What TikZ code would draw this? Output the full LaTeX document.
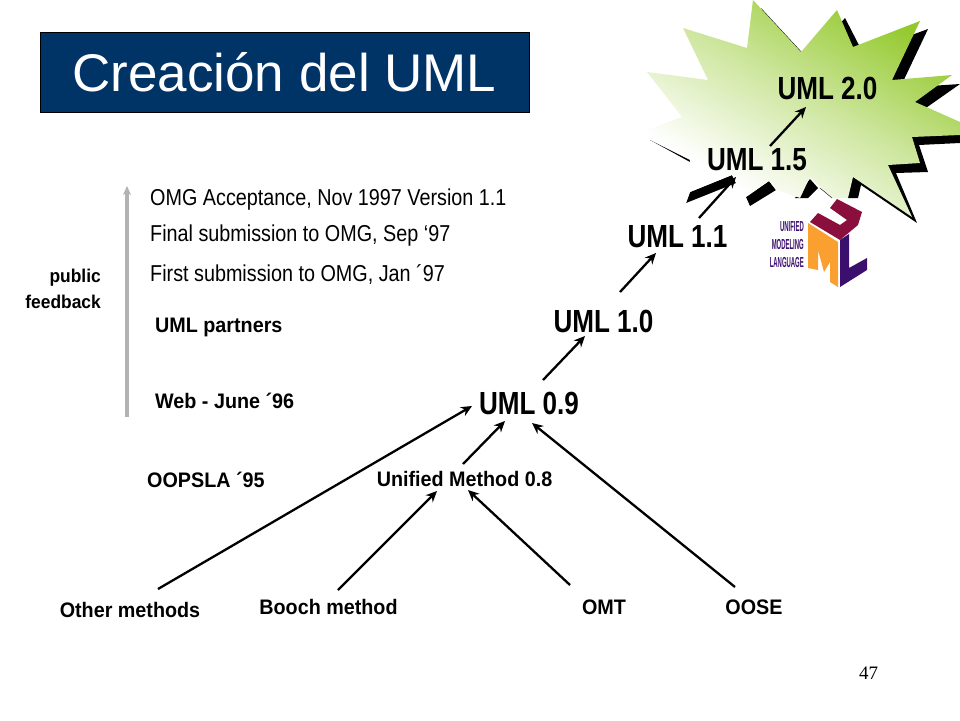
\documentclass[tikz,border=0pt]{standalone}
\usepackage{fontspec}
\setmainfont{Liberation Sans}
\newfontfamily\plainsans[FakeStretch=0.86]{Liberation Sans}
\newfontfamily\slimsans[FakeStretch=0.94]{Liberation Sans}
\newfontfamily\umlsans[FakeStretch=0.815]{Liberation Sans}
\newfontfamily\logosans[FakeStretch=0.41]{Liberation Sans}
\newfontfamily\pagefont{Liberation Serif}
\usetikzlibrary{arrows.meta}
\usetikzlibrary{calc}
\definecolor{titleblue}{RGB}{0,51,102}
\definecolor{burstgreen}{RGB}{146,200,42}
\definecolor{umaroon}{RGB}{138,15,60}
\definecolor{morange}{RGB}{249,160,48}
\definecolor{lpurple}{RGB}{59,15,110}
\pgfdeclareverticalshading{burstfade}{100bp}{color(0bp)=(white); color(30bp)=(white); color(52bp)=(burstgreen!45); color(75bp)=(burstgreen); color(100bp)=(burstgreen)}
\tikzstyle{edge} = [draw,line width=2.3pt,-{Stealth[length=11pt,width=10pt]}]
\tikzstyle{version} = [inner sep=0pt,font=\umlsans\bfseries\fontsize{32}{36}\selectfont]
\tikzstyle{plain} = [inner sep=0pt,anchor=base west,font=\plainsans\fontsize{23}{25}\selectfont]
\tikzstyle{method} = [inner sep=0pt,font=\slimsans\bfseries\fontsize{21}{24}\selectfont]
\tikzstyle{sidenote} = [inner sep=0pt,anchor=base east,font=\slimsans\bfseries\fontsize{18.5}{20}\selectfont]
\tikzstyle{logotext} = [inner sep=0pt,anchor=base east,text=lpurple,font=\logosans\bfseries\fontsize{14.5}{15}\selectfont]

\begin{document}
\begin{tikzpicture}[x=1pt,y=-1pt]
 \useasboundingbox (0,0) rectangle (960,720);

 % black shadow of the burst
 \fill[black] (761,8) -- (809,60) -- (845,18) -- (863,53) -- (928,29) -- (900,88) -- (960,84) -- (923,110) -- (960,126) -- (960,143) -- (919,145) -- (928,172) -- (896,173) -- (917,223) -- (861,185) -- (858,198) -- (848,198) -- (800,100) -- cycle;
 \fill[black] (650,140) -- (653,138) -- (691,158) -- (690,162) -- cycle;
 \fill[black] (686,203) -- (690,192) -- (732,175) -- (736,183) -- cycle;
 \fill[black] (746,197) -- (769,181) -- (776,190) -- (750,206) -- cycle;
 \fill[black] (795,198) -- (810,179) -- (818,188) -- (808,198) -- cycle;

 \path[shading=burstfade,shading angle=-30]
   (753,0) -- (801,52) -- (837,10) -- (853,47) -- (920,21) -- (892,80) -- (952,75) -- (915,102) -- (960,122) -- (960,135) -- (912,137) -- (920,163) -- (888,165) -- (912,217) -- (853,177) -- (848,198) -- (832,198) -- (810,177) -- (800,198) -- (776,190) -- (769,181) -- (746,197) -- (736,183) -- (732,175) -- (690,192) -- (686,203) -- (690,160) -- (650,140) -- (647,130) -- (682,117) -- (647,72) -- (708,80) -- (683,28) -- (747,48) -- cycle;
 \draw[black,line width=0.4pt] (820,188) -- (832,198);

 % logo
 \fill[umaroon] (837,199) -- (862,212) -- (858,225) -- (840,240) -- (810,222) -- (818,213) -- (840,225) -- (847,220) -- (830,208) -- cycle;
 \fill[morange] (808,223) -- (838,242) -- (838,287) -- (830,282) -- (830,262) -- (824,272) -- (818,250) -- (818,270) -- (808,268) -- cycle;
 \fill[lpurple] (840,240) -- (849,234) -- (849,268) -- (867,258) -- (867,270) -- (840,287) -- cycle;
 \node[logotext] (logoa) at (804,231) {UNIFIED};
 \node[logotext] (logob) at (804,249) {MODELING};
 \node[logotext] (logoc) at (804,267) {LANGUAGE};

 \node[draw=black,fill=titleblue,text=white,minimum width=489pt,minimum height=80pt,inner sep=0pt,font=\fontsize{53}{60}\selectfont] (title) at (284.5,72) {Creación del UML};

 \node[plain] (omg) at (150,205) {OMG Acceptance, Nov 1997 Version 1.1};
 \node[plain] (final) at (150,241) {Final submission to OMG, Sep ‘97};
 \node[plain] (first) at (150,281) {First submission to OMG, Jan ´97};
 \node[method,anchor=base west] (partners) at (155,332) {UML partners};
 \node[method,anchor=base west] (web) at (155,408) {Web - June ´96};
 \node[method,anchor=base west] (oopsla) at (147,487) {OOPSLA ´95};
 \node[sidenote] (public) at (101,282) {public};
 \node[sidenote] (feedback) at (101,308) {feedback};

 \coordinate (feedlow) at (127,417);
 \coordinate (feedhigh) at (127,186);
 \draw[draw=black!30,line width=3.2pt,-{Stealth[length=9pt,width=8pt]}] (feedlow) -- (feedhigh);

 \node[version,anchor=base] (uml09) at (529,414) {UML 0.9};
 \node[version,anchor=base] (uml10) at (603.5,332) {UML 1.0};
 \node[version,anchor=base] (uml11) at (677.5,247) {UML 1.1};
 \node[version,anchor=base] (uml15) at (757,170) {UML 1.5};
 \node[version,anchor=base] (uml20) at (827.5,99) {UML 2.0};

 \node[method,anchor=base] (unified) at (464.5,486) {Unified Method 0.8};
 \node[method,anchor=base] (other) at (130,617) {Other methods};
 \node[method,anchor=base] (booch) at (328.5,614) {Booch method};
 \node[method,anchor=base] (omt) at (604,614) {OMT};
 \node[method,anchor=base] (oose) at (754,614) {OOSE};

 \path[edge] ($(other.base)+(28,-28)$) -- ($(uml09.base)+(-57,-8)$);
 \path[edge] ($(booch.base)+(9.5,-24)$) -- ($(unified.base)+(-27.5,5)$);
 \path[edge] ($(omt.base)+(-34,-29)$) -- ($(unified.base)+(3.5,4)$);
 \path[edge] ($(oose.base)+(-19,-27)$) -- ($(uml09.base)+(3,9)$);
 \path[edge] ($(unified.base)+(-1.5,-22)$) -- ($(uml09.base)+(-24,7)$);
 \path[edge] ($(uml09.base)+(14,-34)$) -- ($(uml10.base)+(-18.5,4)$);
 \path[edge] ($(uml10.base)+(16.5,-40)$) -- ($(uml11.base)+(-21.5,6)$);
 \path[edge] ($(uml11.base)+(21.5,-29)$) -- ($(uml15.base)+(-21,7)$);
 \path[edge] ($(uml15.base)+(13,-24)$) -- ($(uml20.base)+(-21.5,8)$);

 \node[inner sep=0pt,anchor=base,font=\pagefont\fontsize{19}{21}\selectfont] (pagenum) at (868.5,679) {47};
\end{tikzpicture}
\end{document}
